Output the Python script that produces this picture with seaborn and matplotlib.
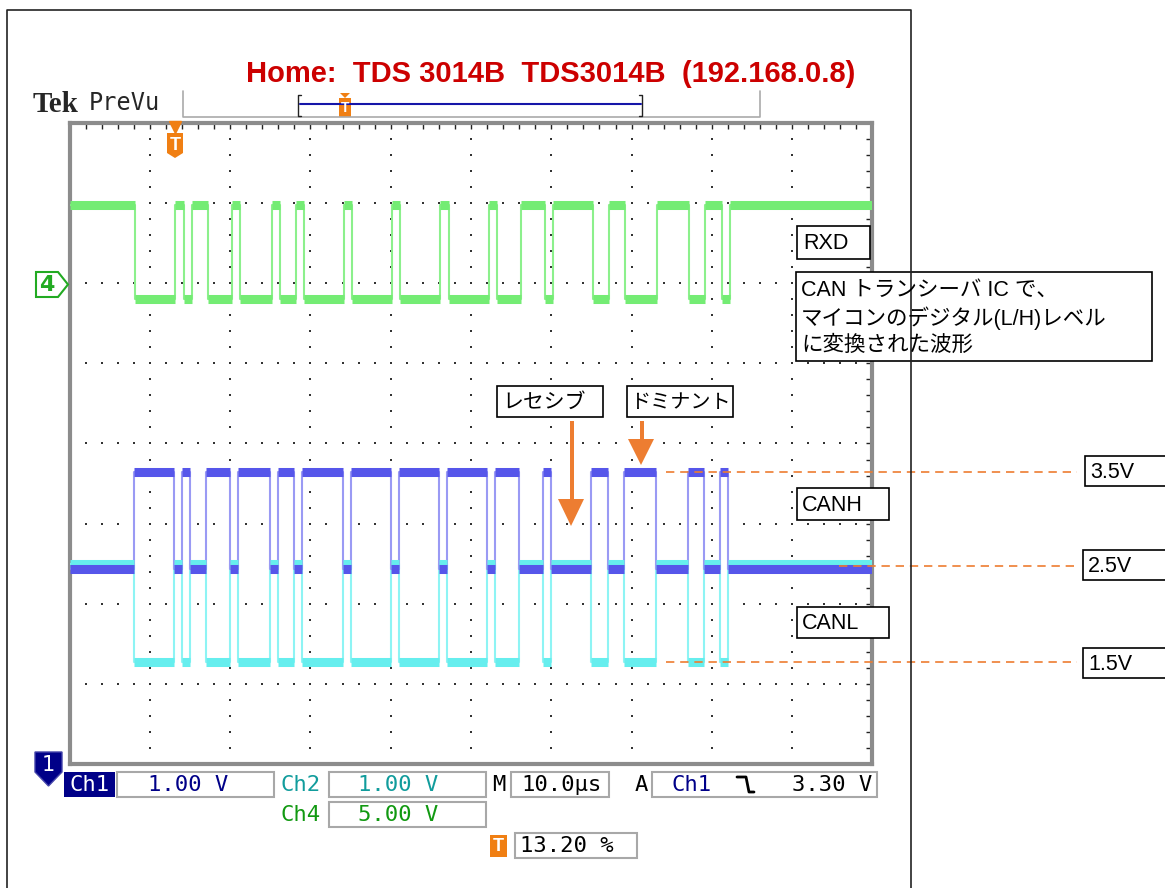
import numpy as np
import pandas as pd
import matplotlib
matplotlib.use('Agg')
import matplotlib.pyplot as plt
import seaborn as sns
from matplotlib.patches import Rectangle, Polygon
from matplotlib.lines import Line2D
from matplotlib.transforms import Affine2D

# CAN bus edges, microseconds (10 us/div, 10 divisions on screen)
can_edges = [8, 13, 14, 15, 17, 20, 21, 25, 26, 28, 29, 34, 35, 40, 41, 46, 47,
             52, 53, 56, 59, 60, 65, 67, 69, 73, 77, 79, 81, 82]
rxd_delay = 0.2
trigger_t = 13.2

# trace levels, in screen divisions
canh_levels = {'rec': 2.43, 'dom': 3.64}
canl_levels = {'rec': 2.50, 'dom': 1.27}
rxd_levels = {'rec': 6.98, 'dom': 5.80}

ref_labels = ['3.5V', '2.5V', '1.5V']
ref_levels = [3.64, 2.47, 1.27]
ref_start = [74.3, 95.8, 74.3]
ref_end = 125.5

W, H = 1165, 888

sns.set_style('white')
plt.rcParams['font.family'] = ['Liberation Sans', 'Noto Sans CJK JP', 'DejaVu Sans']

t_pts = [0.0] + can_edges + [100.0]
state = ['rec' if i % 2 == 0 else 'dom' for i in range(len(t_pts) - 1)]
state.append(state[-1])
df = pd.DataFrame({'t': t_pts, 'state': state})
df['canh'] = df['state'].map(canh_levels)
df['canl'] = df['state'].map(canl_levels)
df['rxd'] = df['state'].map(rxd_levels)
df['t_rxd'] = np.clip(df['t'] + rxd_delay, 0, 100)
df.loc[0, 't_rxd'] = 0.0

fig = plt.figure(figsize=(W / 100, H / 100), dpi=100)
px = Affine2D().scale(1 / W, -1 / H).translate(0, 1) + fig.transFigure

ax = fig.add_axes([69.5 / W, 1 - 764 / H, (872.5 - 69.5) / W, (764 - 123) / H])
ax.set_xlim(0, 100)
ax.set_ylim(0, 8)

# dotted graticule
gx, gyf = np.meshgrid(np.arange(10, 100, 10), np.arange(0.2, 8.0, 0.2))
gxf, gy = np.meshgrid(np.arange(2, 100, 2), np.arange(1, 8))
ax.scatter(gx.ravel(), gyf.ravel(), s=2, c='#333333', marker='s', lw=0, zorder=1)
ax.scatter(gxf.ravel(), gy.ravel(), s=2, c='#333333', marker='s', lw=0, zorder=1)

for sp in ax.spines.values():
    sp.set_color('#8c8c8c')
    sp.set_linewidth(3)
ax.set_xticks(np.arange(0, 101, 10))
ax.set_xticks(np.arange(0, 100, 2), minor=True)
ax.set_yticks(np.arange(0, 8.1, 1))
ax.set_yticks(np.arange(0, 8, 0.2), minor=True)
ax.tick_params(which='both', direction='in', length=4, width=1, color='#222222',
               top=True, right=True, labelbottom=False, labelleft=False)


def trace(xcol, ycol, edge_col, band_col):
    sns.lineplot(data=df, x=xcol, y=ycol, drawstyle='steps-post', estimator=None,
                 sort=False, color=edge_col, lw=1.5, ax=ax, zorder=3)
    ax.hlines(df[ycol][:-1], df[xcol][:-1], df[xcol][1:], colors=band_col, lw=6.5,
              zorder=4)


trace('t', 'canl', '#8ef4f4', '#66eeee')
trace('t', 'canh', '#9a9af4', '#5656ea')
trace('t_rxd', 'rxd', '#8cf08c', '#74ec74')
ax.set_xlabel('')
ax.set_ylabel('')

# reference dashed lines
for lv, x0 in zip(ref_levels, ref_start):
    ax.plot([x0, ref_end], [lv, lv], color='#ed7d31', lw=1.2, ls=(0, (5, 3.5)),
            clip_on=False, zorder=6)


def line(xs, ys, **kw):
    fig.add_artist(Line2D(xs, ys, transform=px, **kw))


def rect(x0, y0, x1, y1, **kw):
    fig.add_artist(Rectangle((x0, y0), x1 - x0, y1 - y0, transform=px, **kw))


def poly(pts, **kw):
    fig.add_artist(Polygon(pts, closed=True, transform=px, **kw))


def txt(x, y, s, **kw):
    kw.setdefault('va', 'center')
    fig.text(x, y, s, transform=px, **kw)


orange = '#f07f13'
navy = '#000088'
teal = '#119c9c'
green = '#119911'

# outer frame
line([7, 7, 911, 911], [888, 10, 10, 888], color='#222222', lw=1.2)

# header
txt(551, 74, 'Home:  TDS 3014B  TDS3014B  (192.168.0.8)', color='#cc0000',
    fontsize=21, fontweight='bold', ha='center')
txt(33, 104, 'Tek', family='Liberation Serif', fontweight='bold', fontsize=21)
txt(89, 103, 'PreVu', family='DejaVu Sans Mono', fontsize=17)
line([183, 183, 760, 760], [91, 117, 117, 91], color='#aaaaaa', lw=1.2)
line([301, 298, 298, 301], [95, 95, 116, 116], color='#222222', lw=1)
line([639, 642, 642, 639], [95, 95, 116, 116], color='#222222', lw=1)
line([300, 641], [104, 104], color='#1515a8', lw=1.5)
poly([(340, 93), (350, 93), (345, 98)], color=orange, lw=0)
rect(339, 98, 351, 117, facecolor=orange, lw=0)
txt(345, 108, 'T', color='white', fontsize=10, fontweight='bold', ha='center')

# trigger marker on screen
ax.plot([trigger_t], [7.95], marker='v', ms=9, color=orange, clip_on=False, zorder=7)
poly([(167, 133), (183, 133), (183, 153), (175, 158), (167, 153)], color=orange, lw=0)
txt(175, 145, 'T', color='white', fontsize=13, fontweight='bold', ha='center')

# channel markers
poly([(36, 272), (58, 272), (68, 284.5), (58, 297), (36, 297)], facecolor='white',
     edgecolor='#22aa22', lw=1.5)
txt(47, 285, '4', color='#22aa22', fontsize=16, fontweight='bold', ha='center',
    family='DejaVu Sans')
poly([(35, 752), (62, 752), (62, 772), (48.5, 786), (35, 772)], facecolor=navy,
     edgecolor='#4444aa', lw=1)
txt(48.5, 765, '1', color='white', fontsize=15, ha='center', family='DejaVu Sans')

# status bar
mono = 'DejaVu Sans Mono'
box_kw = dict(facecolor='white', edgecolor='#a8a8a8', lw=1.5)
rect(64, 772, 115, 797, facecolor=navy, lw=0)
txt(89.5, 785, 'Ch1', color='white', fontsize=16, family=mono, ha='center')
rect(117, 772, 274, 797, **box_kw)
txt(188, 785, '1.00 V', color=navy, fontsize=16, family=mono, ha='center')
txt(301, 785, 'Ch2', color=teal, fontsize=16, family=mono, ha='center')
rect(329, 772, 486, 797, **box_kw)
txt(398, 785, '1.00 V', color=teal, fontsize=16, family=mono, ha='center')
txt(499, 785, 'M', color='black', fontsize=16, family=mono, ha='center')
rect(511, 772, 609, 797, **box_kw)
txt(561, 785, '10.0µs', color='black', fontsize=16, family=mono, ha='center')
txt(641, 785, 'A', color='black', fontsize=16, family=mono, ha='center')
rect(652, 772, 877, 797, **box_kw)
txt(692, 785, 'Ch1', color=navy, fontsize=16, family=mono, ha='center')
line([737, 746, 749, 754], [777, 777, 792, 792], color='black', lw=2)
txt(872, 785, '3.30 V', color='black', fontsize=16, family=mono, ha='right')
txt(301, 815, 'Ch4', color=green, fontsize=16, family=mono, ha='center')
rect(329, 802, 486, 827, **box_kw)
txt(398, 815, '5.00 V', color=green, fontsize=16, family=mono, ha='center')
rect(490, 835, 507, 857, facecolor=orange, lw=0)
txt(498.5, 846, 'T', color='white', fontsize=13, fontweight='bold', ha='center')
rect(515, 833, 637, 858, **box_kw)
txt(520, 846, '13.20 %', color='black', fontsize=16, family=mono)

# annotation boxes: (box, lines, text x, line centres, font size)
note_kw = dict(facecolor='white', edgecolor='black', lw=1.2)
notes = [
    ((797, 226, 870, 259), ['RXD'], 803, [243], 15.5),
    ((796, 272, 1152, 361), ['CAN トランシーバ IC で、', 'マイコンのデジタル(L/H)レベル',
                             'に変換された波形'], 801, [290, 318, 345], 15.5),
    ((497, 386, 603, 417), ['レセシブ'], 502, [402], 15),
    ((627, 386, 733, 417), ['ドミナント'], 630, [402], 14.5),
    ((797, 488, 889, 520), ['CANH'], 802, [505], 15.5),
    ((797, 607, 889, 638), ['CANL'], 802, [623], 15.5),
    ((1085, 456, 1170, 486), ['3.5V'], 1090, [472], 15.5),
    ((1083, 550, 1170, 580), ['2.5V'], 1088, [566], 15.5),
    ((1083, 648, 1170, 678), ['1.5V'], 1088, [664], 15.5),
]
for (x0, y0, x1, y1), lines_, tx, tys, fs in notes:
    rect(x0, y0, x1, y1, **note_kw)
    for s, ty in zip(lines_, tys):
        txt(tx, ty, s, color='black', fontsize=fs)

# orange arrows
arrow_c = '#ed7d31'
rect(569.5, 421, 573.5, 500, facecolor=arrow_c, lw=0)
poly([(558, 499), (584, 499), (571, 526)], color=arrow_c, lw=0)
rect(639.5, 421, 643.5, 440, facecolor=arrow_c, lw=0)
poly([(628, 439), (654, 439), (641, 465)], color=arrow_c, lw=0)

fig.savefig('out.png', dpi=100)
